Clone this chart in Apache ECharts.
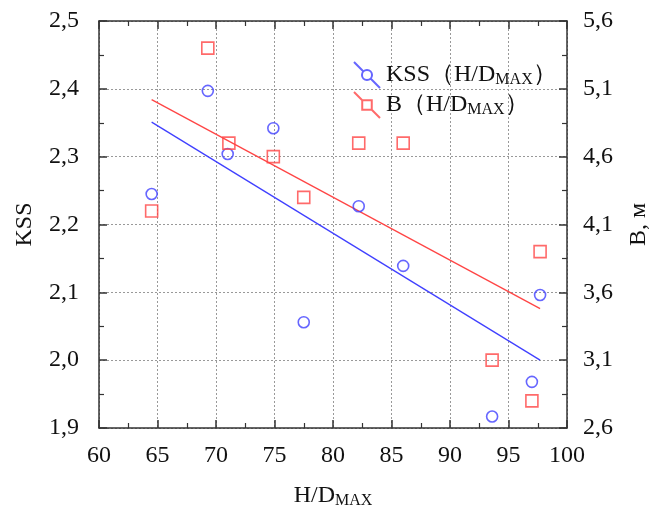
<!DOCTYPE html>
<html>
<head>
<meta charset="utf-8">
<script src="https://cdn.jsdelivr.net/npm/echarts@6/dist/echarts.min.js"></script>
<style>
html,body{margin:0;padding:0;background:#fff;}
#chart{width:649px;height:509px;}
</style>
</head>
<body>
<div id="chart"></div>
<script>
// ---- data ----
const kssX = [64.5, 69.3, 71.0, 74.9, 77.5, 82.2, 86.0, 93.6, 97.0, 97.7];
const kssY = [2.245, 2.397, 2.304, 2.342, 2.056, 2.227, 2.139, 1.917, 1.968, 2.096];
const bX = [64.5, 69.3, 71.1, 74.9, 77.5, 82.2, 86.0, 93.6, 97.0, 97.7];
const bY = [4.2, 5.4, 4.7, 4.6, 4.3, 4.7, 4.7, 3.1, 2.8, 3.9];
// trend lines (endpoints)
const kssTrendX = [64.5, 97.7];
const kssTrendY = [2.351, 2.0];
const bTrendX = [64.5, 97.7];
const bTrendY = [5.02, 3.48];
// axis ticks
const xTicks = [60, 65, 70, 75, 80, 85, 90, 95, 100];
const kssTicks = ['1,9', '2,0', '2,1', '2,2', '2,3', '2,4', '2,5'];
const bTicks = ['2,6', '3,1', '3,6', '4,1', '4,6', '5,1', '5,6'];

const FONT = "'Liberation Serif', 'DejaVu Serif', serif";
const BLUE = '#4040ff';
const RED = '#ff4545';
const AX = '#333';
const zip = (a, b) => a.map((v, i) => [v, b[i]]);
const fmt = v => (Math.round(v * 10) / 10).toFixed(1).replace('.', ',');

const chart = echarts.init(document.getElementById('chart'), null, {renderer: 'canvas'});

const iconCircle = 'path://M0,0L10.9,10.9M19.1,19.1L30,30M15,9.2A5.8,5.8 0 1 1 15,20.8A5.8,5.8 0 1 1 15,9.2Z';
const iconRect = 'path://M0,0L9.5,9.5M20.5,20.5L30,30M9.5,9.5L20.5,9.5L20.5,20.5L9.5,20.5Z';

const axisBase = {
  axisLine: {show: true, onZero: false, lineStyle: {color: AX, width: 1.5}},
  axisTick: {show: true, inside: true, length: 8, lineStyle: {color: AX, width: 1.5}},
  minorTick: {show: true, splitNumber: 2, length: 5, lineStyle: {color: AX, width: 1.2}},
  splitLine: {show: false},
  axisLabel: {color: '#111', fontFamily: FONT, fontSize: 24}
};

const option = {
  backgroundColor: '#fff',
  animation: false,
  grid: {left: 99, right: 82, top: 21, bottom: 81, containLabel: false, outerBoundsMode: 'none'},
  legend: {
    orient: 'vertical',
    left: 348,
    top: 56,
    itemWidth: 28,
    itemHeight: 26,
    itemGap: 2,
    data: [
      {name: 'KSS', icon: iconCircle},
      {name: 'B', icon: iconRect}
    ],
    formatter: n => n === 'KSS' ? 'KSS（H/D{s|MAX}）' : 'В（H/D{s|MAX}）',
    textStyle: {
      fontFamily: FONT, fontSize: 24, color: '#111',
      rich: {s: {fontFamily: FONT, fontSize: 16, color: '#111', padding: [10, 0, 0, 0]}}
    }
  },
  xAxis: [
    Object.assign({}, axisBase, {
      type: 'value', position: 'bottom', min: 60, max: 100, interval: 5,
      splitLine: {show: true, lineStyle: {color: '#999', type: [2, 2], width: 1}},
      axisLabel: Object.assign({}, axisBase.axisLabel, {margin: 16}),
      name: 'H/D{s|MAX}',
      nameLocation: 'middle',
      nameGap: 55,
      nameTextStyle: {fontFamily: FONT, fontSize: 24, color: '#111',
        rich: {s: {fontFamily: FONT, fontSize: 16, color: '#111', padding: [10, 0, 0, 0]}}}
    }),
    Object.assign({}, axisBase, {
      type: 'value', position: 'top', min: 60, max: 100, interval: 5,
      axisLabel: {show: false}
    })
  ],
  yAxis: [
    Object.assign({}, axisBase, {
      type: 'value', position: 'left', min: 1.9, max: 2.5, interval: 0.1,
      splitLine: {show: true, lineStyle: {color: '#999', type: [2, 2], width: 1}},
      axisLabel: Object.assign({}, axisBase.axisLabel, {margin: 20, formatter: v => fmt(v)}),
      name: 'KSS', nameLocation: 'middle', nameRotate: 90, nameGap: 62,
      nameTextStyle: {fontFamily: FONT, fontSize: 24, color: '#111'}
    }),
    Object.assign({}, axisBase, {
      type: 'value', position: 'right', min: 2.6, max: 5.6, interval: 0.5,
      axisLabel: Object.assign({}, axisBase.axisLabel, {margin: 16, formatter: v => fmt(v)}),
      name: 'В, м', nameLocation: 'middle', nameRotate: 90, nameGap: 60,
      nameTextStyle: {fontFamily: FONT, fontSize: 24, color: '#111'}
    })
  ],
  series: [
    {
      name: 'KSS', type: 'scatter', xAxisIndex: 0, yAxisIndex: 0,
      symbol: 'circle', symbolSize: 11,
      itemStyle: {color: 'rgba(0,0,0,0)', borderColor: BLUE, borderWidth: 1.6},
      data: zip(kssX, kssY), z: 5
    },
    {
      name: 'B', type: 'scatter', xAxisIndex: 0, yAxisIndex: 1,
      symbol: 'rect', symbolSize: 12,
      itemStyle: {color: 'rgba(0,0,0,0)', borderColor: RED, borderWidth: 1.6},
      data: zip(bX, bY), z: 5
    },
    {
      name: 'KSS trend', type: 'line', xAxisIndex: 0, yAxisIndex: 0,
      showSymbol: false, lineStyle: {color: BLUE, width: 1.3}, itemStyle: {color: BLUE},
      data: zip(kssTrendX, kssTrendY), z: 4
    },
    {
      name: 'B trend', type: 'line', xAxisIndex: 0, yAxisIndex: 1,
      showSymbol: false, lineStyle: {color: RED, width: 1.3}, itemStyle: {color: RED},
      data: zip(bTrendX, bTrendY), z: 4
    }
  ]
};
chart.setOption(option);
</script>
</body>
</html>
